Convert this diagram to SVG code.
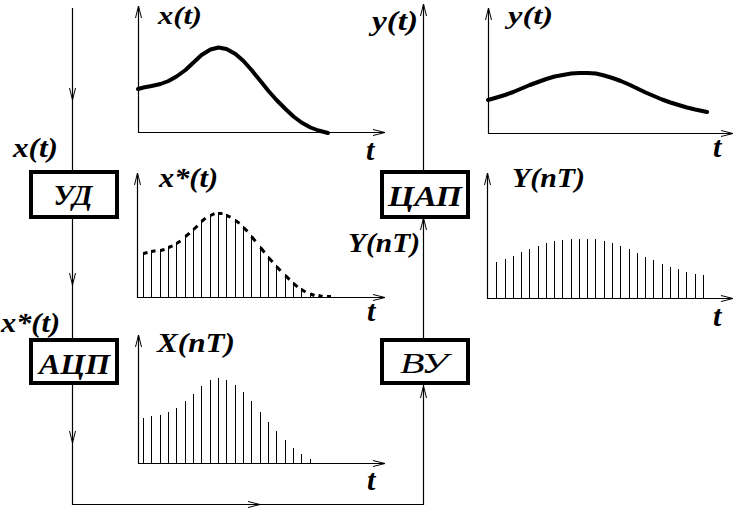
<svg xmlns="http://www.w3.org/2000/svg" width="737" height="512" viewBox="0 0 737 512">
<style>
.ln{fill:none;stroke:#000;stroke-width:1.2}
.arr{fill:none;stroke:#000;stroke-width:1}
.box{fill:#fff;stroke:#000;stroke-width:4}
.bar{fill:none;stroke:#000;stroke-width:1}
.crv{fill:none;stroke:#000;stroke-width:4;stroke-linejoin:round;stroke-linecap:round}
.lab{font-family:"Liberation Serif","Times New Roman",serif;font-style:italic;font-weight:bold;font-size:27px;fill:#000}
.blab{font-family:"Liberation Serif","Times New Roman",serif;font-style:italic;font-weight:bold;font-size:30px;fill:#000;text-anchor:middle}
.tl{font-family:"Liberation Serif","Times New Roman",serif;font-style:italic;font-weight:bold;font-size:30px;fill:#000}
</style>
<rect width="737" height="512" fill="#fff"/>
<g id="connectors">
<polyline class="ln" points="72.5,8 72.5,504.5 423.5,504.5 423.5,4"/>
<polyline class="arr" points="69.5,88 72.5,100 75.5,88"/>
<polyline class="arr" points="69.5,273 72.5,285 75.5,273"/>
<polyline class="arr" points="69.5,431 72.5,443 75.5,431"/>
<polyline class="arr" points="248,501.5 260,504.5 248,507.5"/>
<polyline class="arr" points="420.5,16 423.5,4 426.5,16"/>
<polyline class="arr" points="420.5,230 423.5,218 426.5,230"/>
<polyline class="arr" points="420.5,398 423.5,386 426.5,398"/>
<text class="lab" x="13" y="157" textLength="45" lengthAdjust="spacingAndGlyphs">x(t)</text>
<text class="lab" x="1" y="332" textLength="59" lengthAdjust="spacingAndGlyphs">x*(t)</text>
<text class="lab" x="372" y="30" textLength="46" lengthAdjust="spacingAndGlyphs">y(t)</text>
<text class="lab" x="348" y="252" textLength="72" lengthAdjust="spacingAndGlyphs">Y(nT)</text>
</g>
<g id="node-ud">
<rect class="box" x="31" y="172" width="86" height="45"/>
<text class="blab" x="73" y="205" textLength="39" lengthAdjust="spacingAndGlyphs">УД</text>
</g>
<g id="node-adc">
<rect class="box" x="31" y="340" width="86" height="43"/>
<text class="blab" x="74.5" y="374" textLength="71" lengthAdjust="spacingAndGlyphs">АЦП</text>
</g>
<g id="node-dac">
<rect class="box" x="382" y="172" width="86" height="45"/>
<text class="blab" x="425" y="206" textLength="74" lengthAdjust="spacingAndGlyphs">ЦАП</text>
</g>
<g id="node-vu">
<rect class="box" x="382" y="340" width="86" height="43"/>
<text class="blab" x="424" y="373" textLength="48" lengthAdjust="spacingAndGlyphs" style="font-weight:normal">ВУ</text>
</g>
<g id="graph-xt">
<polyline class="ln" points="138.5,6 138.5,132.5 385,132.5"/>
<polyline class="arr" points="135.5,18 138.5,6 141.5,18"/>
<polyline class="arr" points="373,129.5 385,132.5 373,135.5"/>
<polyline class="crv" points="138,89 143.5,87.5 151.5,86 160.5,84 168.5,81 176.5,76.5 185.5,70 193.5,62.5 201.5,55 210.5,49.5 218.5,47.5 226.5,49 235.5,54 243.5,61 251.5,70 260.5,81 268.5,91 276.5,100 285.5,109 293.5,116.5 301.5,122.5 310.5,127.5 318.5,130.5 328,133"/>
<text class="lab" x="158" y="23.5" textLength="44" lengthAdjust="spacingAndGlyphs" style="font-size:25px">x(t)</text>
<text class="tl" x="366" y="160">t</text>
</g>
<g id="graph-xstar">
<polyline class="ln" points="137.5,173 137.5,297.5 385,297.5"/>
<polyline class="arr" points="134.5,185 137.5,173 140.5,185"/>
<polyline class="arr" points="373,294.5 385,297.5 373,300.5"/>
<path class="bar" d="M143.5,297V252 M151.5,297V250 M160.5,297V249 M168.5,297V246 M176.5,297V242 M185.5,297V235 M193.5,297V228 M201.5,297V220 M210.5,297V214 M218.5,297V212 M226.5,297V214 M235.5,297V219 M243.5,297V226 M251.5,297V235 M260.5,297V246 M268.5,297V256 M276.5,297V265 M285.5,297V274 M293.5,297V282 M301.5,297V288 M310.5,297V293"/>
<path fill="none" stroke="#000" stroke-width="3" d="M143.5,253.5l4,-1 M151.5,251.5l4,-0.7 M160.5,250.5l4,-1 M168.5,247.5l4,-1.7 M176.5,243.5l4,-2.6 M185.5,236.5l4,-3.4 M193.5,229.5l4,-3.6 M201.5,221.5l4,-3.4 M210.5,215.5l4,-1.9 M218.5,213.5l4,0 M226.5,215.5l4,1.7 M235.5,220.5l4,2.9 M243.5,227.5l4,3.8 M251.5,236.5l4,4.8 M260.5,247.5l4,5 M268.5,257.5l4,4.6 M276.5,266.5l4,4.3 M285.5,275.5l4,4.1 M293.5,283.5l4,3.4 M301.5,289.5l4,2.6 M310.5,294l4,1.5 M318.5,295.5l4,1 M327,296.5l4,0"/>
<text class="lab" x="159" y="187" textLength="59" lengthAdjust="spacingAndGlyphs">x*(t)</text>
<text class="tl" x="367" y="321">t</text>
</g>
<g id="graph-xnt">
<polyline class="ln" points="138.5,335 138.5,463.5 385,463.5"/>
<polyline class="arr" points="135.5,347 138.5,335 141.5,347"/>
<polyline class="arr" points="373,460.5 385,463.5 373,466.5"/>
<path class="bar" d="M143.5,463V418 M151.5,463V416 M160.5,463V415 M168.5,463V412 M176.5,463V408 M185.5,463V401 M193.5,463V394 M201.5,463V386 M210.5,463V380 M218.5,463V378 M226.5,463V380 M235.5,463V385 M243.5,463V392 M251.5,463V401 M260.5,463V412 M268.5,463V422 M276.5,463V431 M285.5,463V440 M293.5,463V448 M301.5,463V454 M310.5,463V459"/>
<text class="lab" x="157" y="352" textLength="78" lengthAdjust="spacingAndGlyphs">X(nT)</text>
<text class="tl" x="367" y="490">t</text>
</g>
<g id="graph-yt">
<polyline class="ln" points="488.5,8 488.5,133.5 733,133.5"/>
<polyline class="arr" points="485.5,20 488.5,8 491.5,20"/>
<polyline class="arr" points="721,130.5 733,133.5 721,136.5"/>
<polyline class="crv" points="488,100 496.7,97.5 505,95 513.2,92 521.5,88.5 529.8,85 538,82 546.3,79 554.6,76.5 562.9,75 571.1,73.5 579.4,73 587.7,73 595.9,73.5 604.2,75.5 612.5,78 620.8,81 629,84.5 637.3,88.5 645.6,92.5 653.8,96 662.1,99.5 670.4,102.5 678.6,105 686.9,107.5 695.2,109.5 707,112"/>
<text class="lab" x="508" y="23.5" textLength="45" lengthAdjust="spacingAndGlyphs" style="font-size:25px">y(t)</text>
<text class="tl" x="713" y="157">t</text>
</g>
<g id="graph-ynt">
<polyline class="ln" points="487.5,173 487.5,298.5 733,298.5"/>
<polyline class="arr" points="484.5,185 487.5,173 490.5,185"/>
<polyline class="arr" points="721,295.5 733,298.5 721,301.5"/>
<path class="bar" d="M496.5,298V262 M505.5,298V259 M513.5,298V256 M521.5,298V252 M529.5,298V249 M538.5,298V246 M546.5,298V243 M554.5,298V241 M562.5,298V240 M571.5,298V239 M579.5,298V239 M587.5,298V239 M595.5,298V239 M604.5,298V241 M612.5,298V243 M620.5,298V246 M629.5,298V249 M637.5,298V253 M645.5,298V257 M653.5,298V260 M662.5,298V264 M670.5,298V267 M678.5,298V269 M686.5,298V272 M695.5,298V274 M703.5,298V275"/>
<text class="lab" x="512" y="187" textLength="73" lengthAdjust="spacingAndGlyphs">Y(nT)</text>
<text class="tl" x="713" y="326">t</text>
</g>
</svg>
